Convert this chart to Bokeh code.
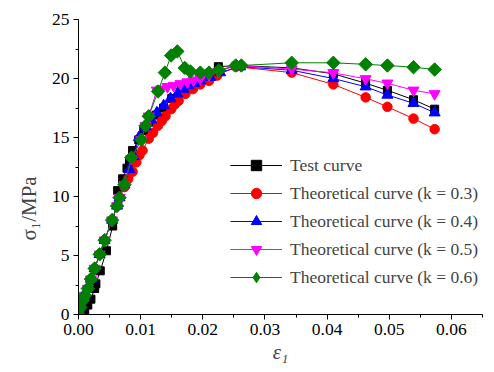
import math
from bokeh.plotting import figure
from bokeh.models import (Range1d, Legend, LegendItem, Title, SingleIntervalTicker,
                          CustomJSTickFormatter)
from bokeh.embed import file_html
from bokeh.resources import INLINE

# Test curve
test_eps = [0.0, 0.0005, 0.001, 0.0015, 0.002, 0.0026, 0.0028, 0.0035, 0.0045, 0.0055, 0.0063,
            0.0071, 0.0078, 0.0082, 0.0087, 0.0097, 0.0105, 0.0115, 0.0125, 0.0137, 0.015,
            0.0165, 0.018, 0.0195, 0.021, 0.0225, 0.0255, 0.0343, 0.041, 0.0462, 0.0497, 0.0539, 0.0573]
test_sig = [0.0, 0.1, 0.2, 0.8, 1.3, 2.2, 2.6, 3.7, 5.4, 7.5, 10.5,
            11.5, 12.4, 12.9, 13.9, 14.8, 15.6, 16.3, 16.9, 17.5, 18.3,
            19.0, 19.6, 20.0, 20.4, 21.0, 21.1, 20.9, 20.4, 19.6, 19.0, 18.2, 17.4]

# Theoretical curves
k03_eps = [0.0, 0.0003, 0.0007, 0.001, 0.0015, 0.002, 0.0026, 0.0034, 0.0042, 0.0054, 0.0062,
           0.0066, 0.0074, 0.0080, 0.0087, 0.0093, 0.0098, 0.0103, 0.0113, 0.0120, 0.0128, 0.0134,
           0.014, 0.0149, 0.0155, 0.0161, 0.0172, 0.0184, 0.0196, 0.021, 0.0223, 0.0253,
           0.0343, 0.041, 0.0462, 0.0497, 0.0539, 0.0573]
k03_sig = [0.0, 0.6, 1.2, 1.6, 2.2, 3.0, 3.9, 5.1, 6.3, 8.0, 9.2,
           9.9, 10.8, 11.5, 12.1, 12.9, 13.5, 13.9, 14.9, 15.4, 16.0, 16.4,
           16.8, 17.4, 17.8, 18.1, 18.7, 19.1, 19.5, 19.8, 20.25, 21.0,
           20.5, 19.5, 18.4, 17.6, 16.6, 15.7]

k04_eps = [0.0, 0.0003, 0.0007, 0.001, 0.0015, 0.002, 0.0026, 0.0034, 0.0042, 0.0054, 0.0062,
           0.0066, 0.0074, 0.0082, 0.0089, 0.0097, 0.0108, 0.0117, 0.0126, 0.0137, 0.0148,
           0.0159, 0.0169, 0.0177, 0.0186, 0.0196, 0.0212, 0.0228, 0.026,
           0.0343, 0.041, 0.0462, 0.0497, 0.0539, 0.0573]
k04_sig = [0.0, 0.6, 1.2, 1.6, 2.2, 3.0, 3.9, 5.1, 6.3, 8.0, 9.2,
           9.9, 11.0, 12.3, 13.4, 15.0, 15.9, 16.5, 17.1, 17.7, 18.3,
           18.7, 19.1, 19.4, 19.6, 19.8, 20.1, 20.5, 21.0,
           20.7, 20.0, 19.3, 18.6, 17.9, 17.1]

k05_eps = [0.0, 0.0003, 0.0007, 0.001, 0.0015, 0.002, 0.0026, 0.0034, 0.0042, 0.0054, 0.0062,
           0.0066, 0.0074, 0.0085, 0.0101, 0.0108, 0.0113, 0.0126, 0.0133, 0.0143, 0.0153,
           0.0164, 0.0175, 0.0185, 0.0196, 0.021, 0.0225, 0.0255,
           0.0343, 0.041, 0.0462, 0.0497, 0.0539, 0.0573]
k05_sig = [0.0, 0.6, 1.2, 1.6, 2.2, 3.0, 3.9, 5.1, 6.3, 8.0, 9.2,
           9.9, 11.0, 13.2, 14.8, 16.0, 16.8, 19.0, 19.1, 19.3, 19.4,
           19.55, 19.7, 19.85, 20.0, 20.3, 20.6, 21.1,
           20.8, 20.48, 19.97, 19.6, 19.0, 18.7]

k06_eps = [0.0, 0.0003, 0.0007, 0.001, 0.0015, 0.002, 0.0026, 0.0034, 0.0042, 0.0054, 0.0062,
           0.0066, 0.0074, 0.0085, 0.0101, 0.0108, 0.0113, 0.0128, 0.0139, 0.0149, 0.0159,
           0.0171, 0.018, 0.0196, 0.021, 0.0226, 0.0253, 0.0262,
           0.0343, 0.041, 0.0462, 0.0497, 0.0539, 0.0573]
k06_sig = [0.0, 0.6, 1.2, 1.6, 2.2, 3.0, 3.9, 5.1, 6.3, 8.0, 9.2,
           9.9, 11.0, 13.3, 14.8, 16.0, 16.8, 18.9, 20.5, 21.95, 22.3,
           20.9, 20.6, 20.5, 20.5, 20.7, 21.1, 21.1,
           21.33, 21.33, 21.2, 21.1, 20.96, 20.76]

labels = ["Test curve",
          "Theoretical curve (k = 0.3)",
          "Theoretical curve (k = 0.4)",
          "Theoretical curve (k = 0.5)",
          "Theoretical curve (k = 0.6)"]

FONT = "Liberation Serif"

p = figure(width=494, height=372, output_backend="svg", toolbar_location=None,
           x_range=Range1d(0, 0.065), y_range=Range1d(0, 25),
           min_border_left=78, min_border_right=12, min_border_top=19, min_border_bottom=58)
p.outline_line_color = None
p.grid.visible = False

p.xaxis.ticker = SingleIntervalTicker(interval=0.01, num_minor_ticks=2)
p.yaxis.ticker = SingleIntervalTicker(interval=5, num_minor_ticks=2)
p.xaxis.formatter = CustomJSTickFormatter(code="return tick.toFixed(2);")
for ax in (p.xaxis, p.yaxis):
    ax.major_label_text_font = FONT
    ax.major_label_text_font_size = "17.5px"
    ax.major_label_text_color = "black"
    ax.axis_line_color = "black"
    ax.major_tick_line_color = "black"
    ax.minor_tick_line_color = "black"
    ax.major_tick_in = 0
    ax.major_tick_out = 5
    ax.minor_tick_in = 0
    ax.minor_tick_out = 3
    ax.major_label_standoff = 4

p.xaxis.axis_label = "ε₁"
p.xaxis.axis_label_text_font = FONT
p.xaxis.axis_label_text_font_size = "21px"
p.xaxis.axis_label_text_font_style = "italic"
p.xaxis.axis_label_standoff = 2

ytitle = Title(text="σ₁/MPa", align="left", offset=74, text_font=FONT,
               text_font_size="21px", text_font_style="normal", standoff=16)
p.add_layout(ytitle, "left")

r_test_l = p.line(test_eps, test_sig, line_color="black", line_width=1)
r_test_m = p.scatter(test_eps, test_sig, marker="square", size=8, fill_color="black", line_color="black")
r3l = p.line(k03_eps, k03_sig, line_color="red", line_width=1)
r3m = p.scatter(k03_eps, k03_sig, marker="circle", size=9.5, fill_color="red", line_color="red")
r4l = p.line(k04_eps, k04_sig, line_color="blue", line_width=1)
r4m = p.scatter(k04_eps, k04_sig, marker="triangle", size=11, fill_color="blue", line_color="blue")
r5l = p.line(k05_eps, k05_sig, line_color="magenta", line_width=1)
r5m = p.scatter(k05_eps, k05_sig, marker="inverted_triangle", size=11, fill_color="magenta", line_color="magenta")
r6l = p.line(k06_eps, k06_sig, line_color="green", line_width=1)
r6m = p.scatter(k06_eps, k06_sig, marker="square", angle=math.pi / 4, size=9.5,
                fill_color="green", line_color="green")
# hidden renderer used only as the legend's diamond swatch
r6leg = p.scatter(k06_eps, k06_sig, marker="diamond", size=15, fill_color="green",
                  line_color="green", visible=False)

legend = Legend(items=[
    LegendItem(label=labels[0], renderers=[r_test_l, r_test_m]),
    LegendItem(label=labels[1], renderers=[r3l, r3m]),
    LegendItem(label=labels[2], renderers=[r4l, r4m]),
    LegendItem(label=labels[3], renderers=[r5l, r5m]),
    LegendItem(label=labels[4], renderers=[r6l, r6leg]),
], location=(152, 24))
legend.border_line_color = None
legend.background_fill_alpha = 0
legend.inactive_fill_alpha = 0
legend.label_text_font = FONT
legend.label_text_font_size = "17.5px"
legend.glyph_width = 52
legend.glyph_height = 26
legend.label_height = 26
legend.spacing = 2
legend.label_standoff = 8
legend.padding = 0
legend.margin = 0
p.add_layout(legend, "center")

open("out.html", "w").write(file_html(p, INLINE))
